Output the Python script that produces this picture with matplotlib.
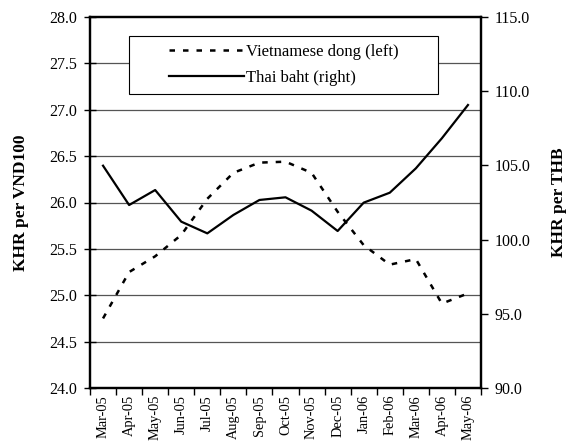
import matplotlib
matplotlib.use("Agg")
import matplotlib.pyplot as plt
from matplotlib.patches import Rectangle
from matplotlib.lines import Line2D
import numpy as np

months = ["Mar-05", "Apr-05", "May-05", "Jun-05", "Jul-05", "Aug-05", "Sep-05",
          "Oct-05", "Nov-05", "Dec-05", "Jan-06", "Feb-06", "Mar-06", "Apr-06", "May-06"]
vnd = [24.75, 25.25, 25.42, 25.65, 26.04, 26.32, 26.43, 26.44, 26.32, 25.90,
       25.54, 25.33, 25.39, 24.91, 25.02]
thb = [104.98, 102.33, 103.34, 101.21, 100.42, 101.66, 102.67, 102.85, 101.95,
       100.58, 102.49, 103.16, 104.80, 106.83, 109.07]
left_ticks = [24.0, 24.5, 25.0, 25.5, 26.0, 26.5, 27.0, 27.5, 28.0]
right_ticks = [90.0, 95.0, 100.0, 105.0, 110.0, 115.0]

plt.rcParams['font.family'] = ['Liberation Serif', 'DejaVu Serif']
FS = 11.5

fig = plt.figure(figsize=(5.68, 4.45), dpi=100)
ax = fig.add_axes([90/568, 1-388/445, (481-90)/568, (388-17)/445])
ax2 = ax.twinx()

x = np.arange(len(months))

# grid lines (left axis)
for v in left_ticks[1:-1]:
    ax.axhline(v, color='#555555', lw=0.9, zorder=1)

ax.plot(x, vnd, color='black', lw=1.8, dashes=(2.2, 3.2), zorder=3)
ax2.plot(x, thb, color='black', lw=1.6, zorder=3)

ax.set_xlim(-0.5, len(months)-0.5)
ax.set_ylim(24.0, 28.0)
ax2.set_ylim(90.0, 115.0)

ax.set_yticks(left_ticks)
ax.set_yticklabels([f"{v:.1f}" for v in left_ticks], fontsize=FS)
ax2.set_yticks(right_ticks)
ax2.set_yticklabels([f"{v:.1f}" for v in right_ticks], fontsize=FS)

ax.set_xticks(np.arange(-0.5, len(months), 1.0))
ax.set_xticklabels([])
ax.set_xticks(x, minor=True)
ax.set_xticklabels(months, minor=True, rotation=90, fontsize=10.4)
ax.tick_params(axis='x', which='minor', length=0, pad=5)
ax.tick_params(axis='x', which='major', length=5, width=1, direction='out')
ax.tick_params(axis='y', length=9, width=1, direction='inout', pad=5)
ax2.tick_params(axis='y', length=5, width=1, direction='out', pad=5)

for a in (ax, ax2):
    for s in a.spines.values():
        s.set_linewidth(1.6)
        s.set_color('black')

ax.set_ylabel("KHR per VND100", fontsize=12.5, fontweight='bold')
ax2.set_ylabel("KHR per THB", fontsize=12.5, fontweight='bold')
ax.yaxis.set_label_coords((29 - 90) / 391, 0.5)
ax2.yaxis.set_label_coords((551 - 90) / 391, 0.5)

# legend box
x0 = (129-90)/391; x1 = (438-90)/391
y0 = (388-94)/371; y1 = (388-36)/371
ax2.add_patch(Rectangle((x0, y0), x1-x0, y1-y0, transform=ax2.transAxes,
                        facecolor='white', edgecolor='black', lw=0.8, zorder=4))
handles = [Line2D([], [], color='black', lw=1.8, dashes=(2.2, 3.2)),
           Line2D([], [], color='black', lw=1.6)]
leg = ax2.legend(handles, ["Vietnamese dong (left)", "Thai baht (right)"],
                 loc='center', bbox_to_anchor=((x0+x1)/2, (y0+y1)/2),
                 frameon=False, fontsize=12, handlelength=4.5,
                 handletextpad=0.1, labelspacing=0.6, borderpad=0)
leg.set_zorder(5)

fig.savefig("out.png", dpi=100)
